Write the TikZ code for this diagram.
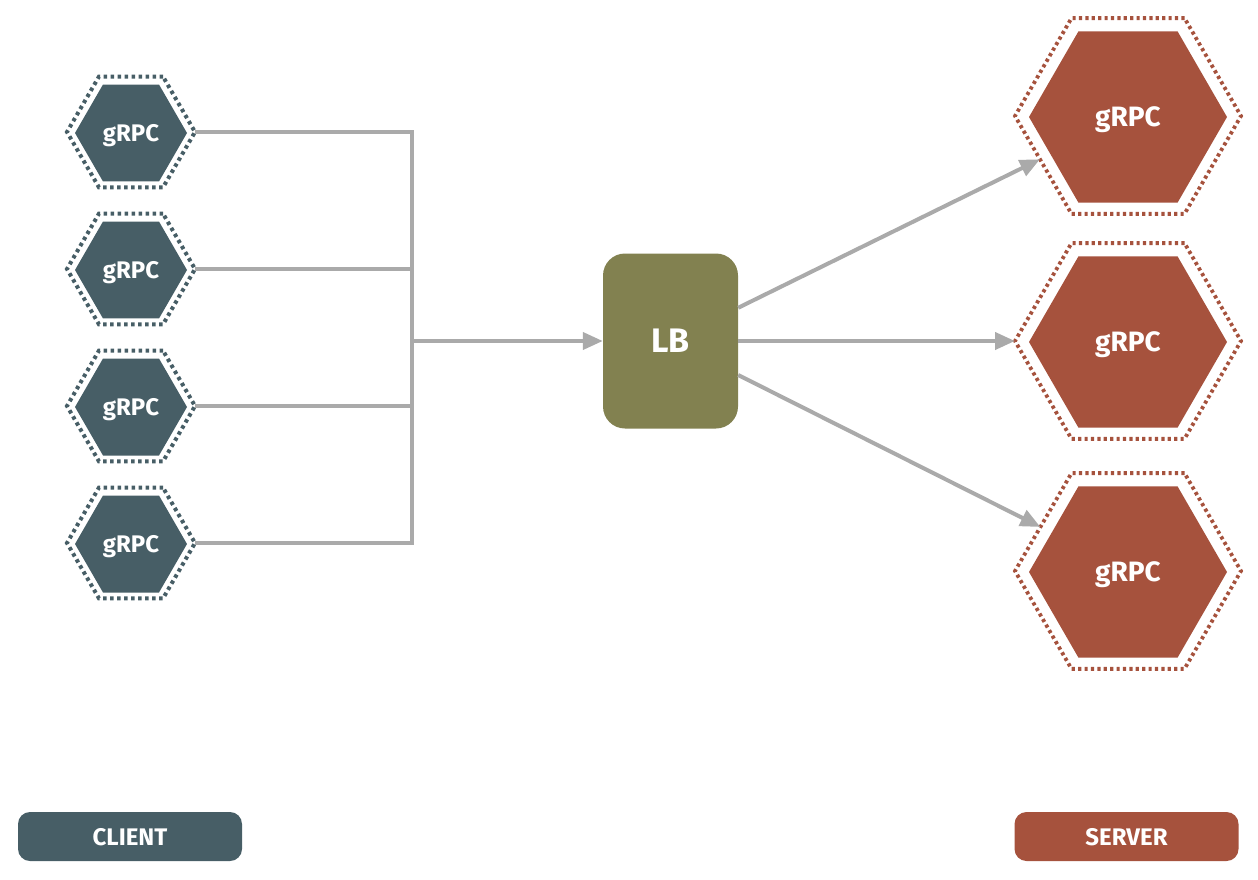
\documentclass[tikz,border=0pt]{standalone}
\usepackage{fontspec}
\setmainfont{Fira Sans}
\usetikzlibrary{shapes.geometric, arrows.meta}

\definecolor{clientcol}{RGB}{71,94,102}
\definecolor{servercol}{RGB}{166,82,61}
\definecolor{lbcol}{RGB}{130,129,80}
\definecolor{wirecol}{RGB}{170,170,170}

\begin{document}
\begin{tikzpicture}[x=1pt, y=-1pt,
    hexbase/.style={regular polygon, regular polygon sides=6, inner sep=0pt, outer sep=0pt},
    clienthex/.style={hexbase, minimum size=112pt, fill=clientcol, text=white, text depth=0pt, font=\bfseries\fontsize{24}{24}\selectfont},
    clientring/.style={hexbase, minimum size=128pt, draw=clientcol, line width=4pt, dash pattern=on 3.5pt off 3.5pt},
    serverhex/.style={hexbase, minimum size=198pt, fill=servercol, text=white, text depth=0pt, font=\bfseries\fontsize{28}{28}\selectfont},
    serverring/.style={hexbase, minimum size=226pt, draw=servercol, line width=3.8pt, dash pattern=on 3.2pt off 3.2pt},
    lbbox/.style={rectangle, rounded corners=22pt, minimum width=135pt, minimum height=175pt, fill=lbcol, text=white, text depth=0pt, font=\bfseries\fontsize{34}{34}\selectfont},
    legendbox/.style={rectangle, rounded corners=12pt, minimum width=224pt, minimum height=49pt, text=white, text depth=0pt, font=\bfseries\fontsize{24}{24}\selectfont},
    wire/.style={draw=wirecol, line width=3.5pt},
    flow/.style={draw=wirecol, line width=4pt, -{Triangle[length=20pt, width=17pt]}}]

\useasboundingbox (0,0) rectangle (1258,880);

\node[clientring] (c1o) at (131,132) {};
\node[clientring] (c2o) at (131,269) {};
\node[clientring] (c3o) at (131,406) {};
\node[clientring] (c4o) at (131,543) {};
\node[clienthex] (c1) at (131,133) {gRPC};
\node[clienthex] (c2) at (131,270) {gRPC};
\node[clienthex] (c3) at (131,407) {gRPC};
\node[clienthex] (c4) at (131,544) {gRPC};

\node[serverring] (s1o) at (1128,116) {};
\node[serverring] (s2o) at (1128,341) {};
\node[serverring] (s3o) at (1128,571) {};
\node[serverhex] (s1) at (1128,117) {gRPC};
\node[serverhex] (s2) at (1128,342) {gRPC};
\node[serverhex] (s3) at (1128,572) {gRPC};

\node[lbbox] (lb) at (670.5,341) {LB};

\coordinate (jn) at (412,341);

\draw[wire] (c1o.east) -| (jn);
\draw[wire] (c4o.east) -| (jn);
\draw[wire] (c2o.east) -- (c2o.east -| jn);
\draw[wire] (c3o.east) -- (c3o.east -| jn);
\draw[flow] (jn) -- (lb);

\draw[flow] (lb) -- (s1o);
\draw[flow] (lb) -- (s2o);
\draw[flow] (lb) -- (s3o);

\node[legendbox, fill=clientcol] (client) at (130,836.5) {CLIENT};
\node[legendbox, fill=servercol] (server) at (1126.5,836.5) {SERVER};

\end{tikzpicture}
\end{document}
